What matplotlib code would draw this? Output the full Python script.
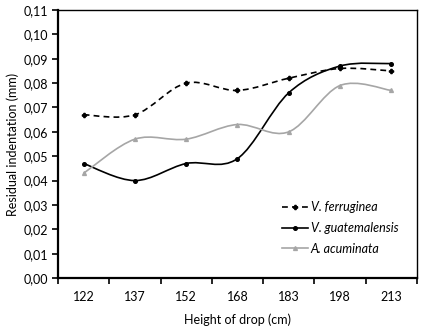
import numpy as np
import matplotlib
matplotlib.use("Agg")
import matplotlib.pyplot as plt
from matplotlib.path import Path
from matplotlib.patches import PathPatch
from matplotlib.lines import Line2D

plt.rcParams['font.family'] = ['Lato', 'DejaVu Sans']

heights = ["122", "137", "152", "168", "183", "198", "213"]
v_ferruginea = [0.067, 0.067, 0.080, 0.077, 0.082, 0.086, 0.085]
v_guatemalensis = [0.047, 0.040, 0.047, 0.049, 0.076, 0.087, 0.088]
a_acuminata = [0.043, 0.057, 0.057, 0.063, 0.060, 0.079, 0.077]

yticks = np.arange(0, 0.111, 0.01)
ytick_labels = [f"{v:.2f}".replace(".", ",") for v in yticks]


def smooth_path(x, y):
    # excel-like smoothed line as cubic bezier segments
    pts = np.column_stack([x, y]).astype(float)
    n = len(pts)
    verts = [pts[0]]
    codes = [Path.MOVETO]
    for i in range(n - 1):
        p0 = pts[i - 1] if i > 0 else pts[i]
        p1 = pts[i]
        p2 = pts[i + 1]
        p3 = pts[i + 2] if i + 2 < n else pts[i + 1]
        c1 = p1 + (p2 - p0) / 6
        c2 = p2 - (p3 - p1) / 6
        verts += [c1, c2, p2]
        codes += [Path.CURVE4] * 3
    return Path(verts, codes)


fig = plt.figure(figsize=(4.28, 3.33), dpi=100)
ax = fig.add_axes([0.1355, 0.165, 0.8385, 0.805])

x = np.arange(len(heights))
series = [
    (v_ferruginea, "V. ferruginea", "black", (0, (3.5, 2.5)), "P", 3),
    (v_guatemalensis, "V. guatemalensis", "black", "-", "o", 2.6),
    (a_acuminata, "A. acuminata", "#a6a6a6", "-", "^", 2.8),
]
handles = []
for vals, name, col, ls, mk, ms in series:
    patch = PathPatch(smooth_path(x, vals), facecolor="none", edgecolor=col,
                      linestyle=ls, linewidth=1.2, transform=ax.transData)
    ax.add_patch(patch)
    ax.plot(x, vals, linestyle="none", marker=mk, markersize=ms, color=col)
    handles.append(Line2D([], [], color=col, linestyle=ls, linewidth=1.2,
                          marker=mk, markersize=ms, label=name))

fs = 9
ax.set_xlim(-0.5, len(heights) - 0.5)
ax.set_ylim(0, 0.11)
ax.set_xticks(x)
ax.set_xticklabels(heights)
ax.set_xticks(np.arange(-0.5, len(heights)), minor=True)
ax.tick_params(axis="x", which="major", length=0, pad=9, labelsize=fs)
ax.tick_params(axis="x", which="minor", length=4, width=1.2, direction="out")
ax.set_yticks(yticks)
ax.set_yticklabels(ytick_labels)
ax.tick_params(axis="y", length=4, width=1.2, labelsize=fs, pad=3)

for side in ["left", "bottom"]:
    ax.spines[side].set_linewidth(1.6)
for side in ["top", "right"]:
    ax.spines[side].set_linewidth(1.0)

ax.set_xlabel("Height of drop (cm)", fontsize=fs, labelpad=8)
ax.set_ylabel("Residual indentation (mm)", fontsize=fs, labelpad=3)

leg = ax.legend(handles=handles, loc="upper left", bbox_to_anchor=(0.61, 0.305),
                frameon=False, fontsize=fs, handlelength=2.1, handletextpad=0.2,
                labelspacing=0.7, borderaxespad=0)
for t in leg.get_texts():
    t.set_fontstyle("italic")

fig.savefig("out.png", dpi=100)
